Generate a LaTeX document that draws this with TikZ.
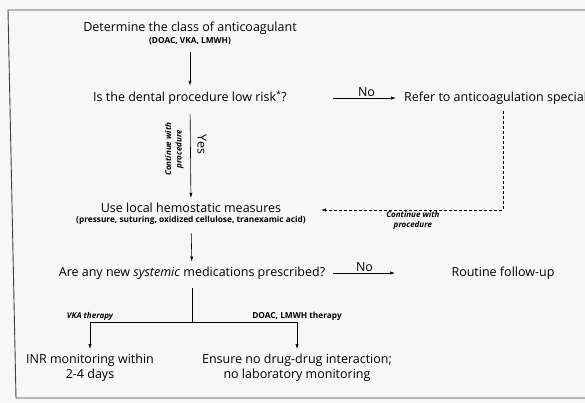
\documentclass[tikz,border=0pt]{standalone}
\usepackage{fontspec}
\setmainfont{Open Sans}
\usetikzlibrary{arrows.meta}

\begin{document}
\begin{tikzpicture}[x=1pt,y=-1pt,
    txt/.style={font=\fontsize{12.5}{15}\selectfont, inner sep=1pt},
    note/.style={font=\fontsize{8.3}{9.5}\selectfont\bfseries, inner sep=1pt},
    lbl/.style={font=\fontsize{8}{10.5}\selectfont\bfseries\itshape, align=center, inner sep=1pt},
    arr/.style={-{Latex[length=5pt,width=3.2pt]}, line width=0.6pt}]

  %paper and frame
  \fill[gray!6] (0,0) rectangle (585,403);
  \clip (0,0) rectangle (585,403);
  \draw[line width=0.9pt, black!75] (585,10) -- (8,10) -- (16,398) -- (585,398);

  %steps
  \node[txt] (det) at (190,28) {Determine the class of anticoagulant};
  \node[note] (detsub) at (190,41) {(DOAC, VKA, LMWH)};
  \node[txt] (risk) at (190,98) {Is the dental procedure low risk\textsuperscript{*}?};
  \node[txt, anchor=west] (refer) at (403,98) {Refer to anticoagulation specialist};
  \node[txt] (hemo) at (191,208) {Use local hemostatic measures};
  \node[note] (hemosub) at (191,220) {(pressure, suturing, oxidized cellulose, tranexamic acid)};
  \node[txt] (sys) at (192,273) {Are any new \emph{systemic} medications prescribed?};
  \node[txt] (routine) at (503,273) {Routine follow-up};
  \node[txt, align=center] (inr) at (90,368) {INR monitoring within\\2-4 days};
  \node[txt, align=center] (ensure) at (297,368) {Ensure no drug-drug interaction;\\no laboratory monitoring};

  \coordinate (corner) at (503,210);
  \coordinate (split) at (192,322);

  %main line
  \draw[arr, shorten <=6pt, shorten >=4pt] (detsub) -- (risk);
  \draw[arr, shorten <=8pt, shorten >=4pt] (risk) -- (hemo)
    node[pos=0.4, rotate=-90, anchor=south, txt, outer sep=6pt] {Yes}
    node[pos=0.45, rotate=90, anchor=south, lbl, outer sep=6pt] {Continue with\\procedure};
  \draw[arr, shorten <=8pt, shorten >=4pt] (hemosub) -- (sys);

  %no branches
  \draw[arr, shorten <=143pt, shorten >=7pt] (risk.center) -- node[above, txt, xshift=70pt] {No} (refer.west);
  \draw[arr, shorten <=141pt, shorten >=108pt] (sys.center) -- node[above, txt, xshift=17pt] {No} (routine.center);
  \draw[arr, dashed, dash pattern=on 3pt off 2pt, shorten >=14pt] (refer.south -| corner) ++(0,6) -- (corner)
    -- node[below, lbl, pos=0.46] {Continue with\\procedure} (hemosub.east |- corner);

  %therapy split
  \draw[line width=0.6pt, shorten <=8pt] (sys) -- (split);
  \foreach \dest/\what/\sty in {inr/VKA therapy/lbl, ensure/{DOAC, LMWH therapy}/note}
    \draw[arr, shorten >=4pt] (split) -| node[above, \sty] {\what} (\dest);

\end{tikzpicture}
\end{document}
